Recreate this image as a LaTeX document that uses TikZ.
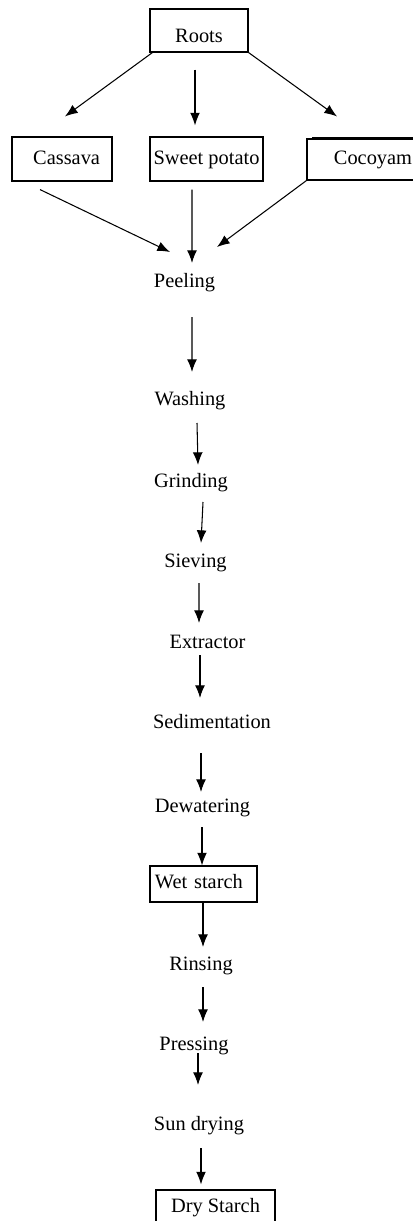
\documentclass[tikz,border=0pt]{standalone}
\usepackage{fontspec}
\setmainfont{Liberation Serif}
\usetikzlibrary{arrows.meta, calc, positioning}

\begin{document}
\begin{tikzpicture}[
            x=0.025cm, y=-0.025cm,
            stage/.style={inner sep=0pt, anchor=base, font=\fontsize{14.5}{17}\selectfont},
            box/.style={stage, draw, line width=0.8pt},
            flow/.style={-{Latex[length=9pt, width=7pt]}, line width=0.75pt}
        ]
        \path[use as bounding box, clip] (0,0) rectangle (413,1221);

        % sources
        \node[box, minimum width=2.45cm, text height=0.85cm, text depth=0.225cm] (roots) at (199,43) {Roots};
        \node[box, inner xsep=0.3cm, text width=1.9cm, align=right, text height=0.7cm, text depth=0.4cm] (cassava) at (62,165) {Cassava};
        \node[box, minimum width=2.825cm, text height=0.7cm, text depth=0.4cm] (sweet) at (206.5,165) {Sweet potato};
        \node[box, minimum width=3.3cm, text height=0.65cm, text depth=0.375cm] (cocoyam) at (373,165) {Cocoyam};
        \draw[line width=1.5pt] ($(cocoyam.north west)+(6,0)$) -- (cocoyam.north east);

        % process line
        \node[stage] (peeling) at (184.5,287) {Peeling};
        \node[stage] (washing) at (190,405) {Washing};
        \node[stage] (grinding) at (191,487) {Grinding};
        \node[stage] (sieving) at (195.5,567) {Sieving};
        \node[stage] (extractor) at (207.5,648) {Extractor};
        \node[stage] (sedim) at (212,728) {Sedimentation};
        \node[stage] (dewater) at (202.5,812) {Dewatering};
        \node[box, inner xsep=0.125cm, text width=2.425cm, align=left, text height=0.55cm, text depth=0.35cm] (wet) at (203.5,888) {Wet starch};
        \node[stage] (rinsing) at (201,970) {Rinsing};
        \node[stage] (pressing) at (194,1050) {Pressing};
        \node[stage] (sundry) at (199,1130) {Sun drying};
        \node[box, minimum width=2.975cm, text height=0.55cm, text depth=0.625cm] (dry) at (215.5,1212) {Dry Starch};

        \draw[flow] ($(roots.south west)+(3,0)$) -- ($(cassava.north)+(3,-20)$);
        \draw[flow] ($(roots.south)+(-4,17)$) -- ($(sweet.north)+(-11.5,-11)$);
        \draw[flow] (roots.south east) -- ($(cocoyam.north)+(-36,-22)$);

        \draw[flow] ($(cassava.south)+(-22,8)$) -- ($(peeling.base)+(-14.5,-35)$);
        \draw[flow] ($(sweet.south)+(-14.5,8)$) -- ($(peeling.base)+(7.5,-24)$);
        \draw[flow] (cocoyam.south west) -- ($(peeling.base)+(32.5,-40)$);

        \draw[flow] ($(peeling.base)+(7.5,30)$) -- ($(washing.base)+(2,-33)$);
        \draw[flow] ($(washing.base)+(7,18)$) -- ($(grinding.base)+(7,-22)$);
        \draw[flow] ($(grinding.base)+(12,15)$) -- ($(sieving.base)+(5.5,-24)$);
        \draw[flow] ($(sieving.base)+(3.5,16)$) -- ($(extractor.base)+(-8.5,-25)$);
        \draw[flow] ($(extractor.base)+(-7.5,7)$) -- ($(sedim.base)+(-12,-30)$);
        \draw[flow] ($(sedim.base)+(-11,25)$) -- ($(dewater.base)+(-1.5,-20)$);
        \draw[flow] ($(dewater.base)+(-0.5,15)$) -- ($(wet.north)+(-1.5,0)$);
        \draw[flow] ($(wet.south)+(-0.5,0)$) -- ($(rinsing.base)+(2,-23)$);
        \draw[flow] ($(rinsing.base)+(2,17)$) -- ($(pressing.base)+(9,-28)$);
        \draw[flow] ($(pressing.base)+(4,3)$) -- ($(sundry.base)+(-1,-45)$);
        \draw[flow] ($(sundry.base)+(2,18)$) -- ($(dry.north)+(-14.5,-5)$);
    \end{tikzpicture}
\end{document}
